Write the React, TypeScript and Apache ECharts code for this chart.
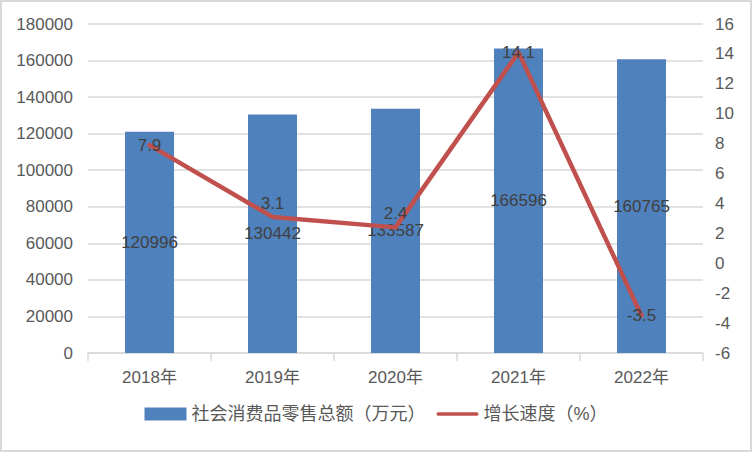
import React, { useEffect, useRef } from "react";
import * as echarts from "echarts";

const categories = ["2018年", "2019年", "2020年", "2021年", "2022年"];
const salesValues = [120996, 130442, 133587, 166596, 160765];
const growthValues = [7.9, 3.1, 2.4, 14.1, -3.5];
const growthLabelPositions = ["inside", "top", "top", "inside", "inside"];
const salesName = "社会消费品零售总额（万元）";
const growthName = "增长速度（%）";

const FONT = '"Liberation Sans", "Noto Sans CJK SC", sans-serif';

export default function App() {
  const ref = useRef<HTMLDivElement>(null);
  useEffect(() => {
    if (!ref.current) return;
    const chart = echarts.init(ref.current, undefined, { renderer: "svg" });
    chart.setOption({
      animation: false,
      backgroundColor: "#ffffff",
      textStyle: { fontFamily: FONT },
      graphic: [
        {
          type: "rect",
          shape: { x: 1, y: 1, width: 750, height: 450 },
          style: { fill: "none", stroke: "#D9D9D9", lineWidth: 2 },
          z: -1,
        },
      ],
      grid: { left: 88, right: 49, top: 24, bottom: 99, containLabel: false },
      legend: {
        bottom: 24,
        left: "center",
        itemWidth: 42,
        itemHeight: 13,
        itemGap: 11,
        textStyle: { fontSize: 18, color: "#595959", fontFamily: FONT },
        data: [
          { name: salesName, icon: "rect" },
          {
            name: growthName,
            icon: "path://M2,0 L43,0 A2,2 0 0 1 43,4 L2,4 A2,2 0 0 1 2,0 Z",
          },
        ],
      },
      xAxis: {
        type: "category",
        data: categories,
        axisLine: { lineStyle: { color: "#D9D9D9", width: 1.5 } },
        axisTick: { show: true, length: 8, lineStyle: { color: "#D9D9D9", width: 1.5 } },
        axisLabel: { fontSize: 17, color: "#595959", margin: 16, fontFamily: FONT },
      },
      yAxis: [
        {
          type: "value",
          min: 0,
          max: 180000,
          interval: 20000,
          axisLine: { show: false },
          axisTick: { show: false },
          splitLine: { lineStyle: { color: "#D9D9D9", width: 1.5 } },
          axisLabel: {
            fontSize: 17,
            color: "#595959",
            margin: 15,
            fontFamily: FONT,
            formatter: (v: number) => String(v),
          },
        },
        {
          type: "value",
          min: -6,
          max: 16,
          interval: 2,
          axisLine: { show: false },
          axisTick: { show: false },
          splitLine: { show: false },
          axisLabel: {
            fontSize: 17,
            color: "#595959",
            margin: 12,
            fontFamily: FONT,
            formatter: (v: number) => String(v),
          },
        },
      ],
      series: [
        {
          name: salesName,
          type: "bar",
          barWidth: 49,
          data: salesValues,
          itemStyle: { color: "#4F81BD" },
          label: {
            show: true,
            position: "inside",
            fontSize: 17,
            color: "#404040",
            fontFamily: FONT,
          },
        },
        {
          name: growthName,
          type: "line",
          yAxisIndex: 1,
          symbol: "circle",
          symbolSize: 0,
          showSymbol: true,
          data: growthValues.map((v, i) => ({
            value: v,
            label: { position: growthLabelPositions[i] },
          })),
          lineStyle: { color: "#C0504D", width: 4.5, cap: "round", join: "round" },
          itemStyle: { color: "#C0504D" },
          label: {
            show: true,
            fontSize: 17,
            color: "#404040",
            distance: 5,
            fontFamily: FONT,
          },
          z: 3,
        },
      ],
    });
    return () => chart.dispose();
  }, []);
  return (
    <div
      ref={ref}
      style={{ position: "fixed", left: 0, top: 0, width: 752, height: 452 }}
    />
  );
}
